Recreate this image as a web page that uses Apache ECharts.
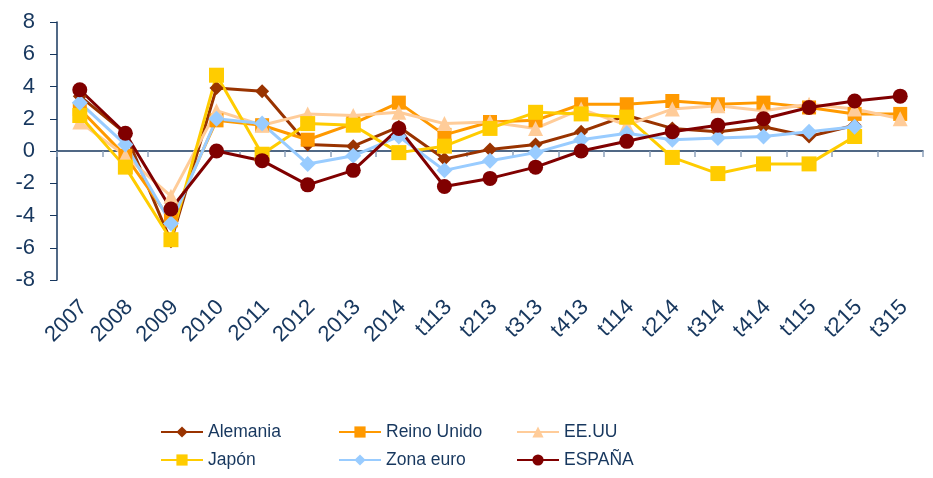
<!DOCTYPE html>
<html>
<head>
<meta charset="utf-8">
<script src="https://cdn.jsdelivr.net/npm/echarts@6/dist/echarts.min.js"></script>
<style>
html,body{margin:0;padding:0;background:#fff;}
#chart{width:933px;height:478px;}
</style>
</head>
<body>
<div id="chart"></div>
<script>
var categories = ['2007','2008','2009','2010','2011','2012','2013','2014','t113','t213','t313','t413','t114','t214','t314','t414','t115','t215','t315'];
var yTicks = [-8,-6,-4,-2,0,2,4,6,8];

var alemania   = [3.4, 1.1, -5.6, 3.9, 3.7, 0.4, 0.3, 1.5, -0.5, 0.1, 0.4, 1.2, 2.2, 1.4, 1.2, 1.5, 0.9, 1.6, null];
var reinoUnido = [2.6, -0.3, -4.3, 1.9, 1.6, 0.7, 1.7, 3.0, 1.0, 1.8, 1.9, 2.9, 2.9, 3.1, 2.9, 3.0, 2.7, 2.3, 2.3];
var eeuu       = [1.8, -0.3, -2.8, 2.5, 1.6, 2.3, 2.2, 2.4, 1.7, 1.8, 1.4, 2.6, 1.6, 2.6, 2.8, 2.5, 2.9, 2.6, 2.0];
var japon      = [2.2, -1.0, -5.5, 4.7, -0.2, 1.7, 1.6, -0.1, 0.3, 1.4, 2.4, 2.3, 2.1, -0.4, -1.4, -0.8, -0.8, 0.9, null];
var zonaEuro   = [3.0, 0.4, -4.5, 2.0, 1.7, -0.8, -0.3, 0.9, -1.2, -0.6, -0.1, 0.7, 1.1, 0.7, 0.8, 0.9, 1.2, 1.5, null];
var espana     = [3.8, 1.1, -3.6, 0.0, -0.6, -2.1, -1.2, 1.4, -2.2, -1.7, -1.0, 0.0, 0.6, 1.2, 1.6, 2.0, 2.7, 3.1, 3.4];

var navy = '#17375E';
var font = 'Liberation Sans, Arial, sans-serif';

function mk(name, data, color, symbol, size) {
  return {
    name: name, type: 'line', data: data, xAxisIndex: 0, yAxisIndex: 0,
    symbol: symbol, symbolSize: size, showSymbol: true,
    lineStyle: {color: color, width: 3},
    itemStyle: {color: color},
    emphasis: {disabled: true},
    animation: false
  };
}

var chart = echarts.init(document.getElementById('chart'), null, {renderer: 'canvas'});
var legendCommon = {
  orient: 'vertical', top: 423, padding: 0, itemWidth: 42, itemHeight: 14, itemGap: 10,
  textStyle: {color: navy, fontSize: 17.5, fontFamily: font},
  selectedMode: false
};
chart.setOption({
  animation: false,
  backgroundColor: '#fff',
  grid: {left: 57, top: 22, right: 10, bottom: 198, containLabel: false},
  xAxis: [
    {
      type: 'category', data: categories, position: 'bottom', boundaryGap: true,
      axisLine: {show: false, onZero: false}, axisTick: {show: false},
      axisLabel: {rotate: 45, interval: 0, margin: 20, verticalAlign: 'top', lineHeight: 11, color: navy, fontSize: 22, fontFamily: font},
      splitLine: {show: false}
    },
    {
      type: 'category', data: categories, position: 'bottom', boundaryGap: true,
      axisLine: {show: true, onZero: true, lineStyle: {color: navy, width: 1.5}},
      axisTick: {show: true, length: 6, inside: false, lineStyle: {color: '#8FA3BC', width: 1.5}},
      axisLabel: {show: false}, splitLine: {show: false}
    }
  ],
  yAxis: {
    type: 'value', min: -8, max: 8, interval: 2,
    axisLine: {show: true, lineStyle: {color: navy, width: 1.5}},
    axisTick: {show: true, length: 7, lineStyle: {color: navy, width: 1}},
    axisLabel: {color: navy, fontSize: 22, fontFamily: font, margin: 22,
      formatter: function(v){ return yTicks.indexOf(v) >= 0 ? String(v) : ''; }},
    splitLine: {show: false}
  },
  legend: [
    Object.assign({left: 160, data: ['Alemania', 'Japón']}, legendCommon),
    Object.assign({left: 338, data: ['Reino Unido', 'Zona euro']}, legendCommon),
    Object.assign({left: 516, data: ['EE.UU', 'ESPAÑA']}, legendCommon)
  ],
  series: [
    mk('Alemania', alemania, '#993300', 'diamond', 14),
    mk('Reino Unido', reinoUnido, '#FF9900', 'rect', 14),
    mk('EE.UU', eeuu, '#FFCC99', 'triangle', 15),
    mk('Japón', japon, '#FFCC00', 'rect', 15),
    mk('Zona euro', zonaEuro, '#99CCFF', 'diamond', 16),
    mk('ESPAÑA', espana, '#800000', 'circle', 15)
  ]
});
</script>
</body>
</html>
